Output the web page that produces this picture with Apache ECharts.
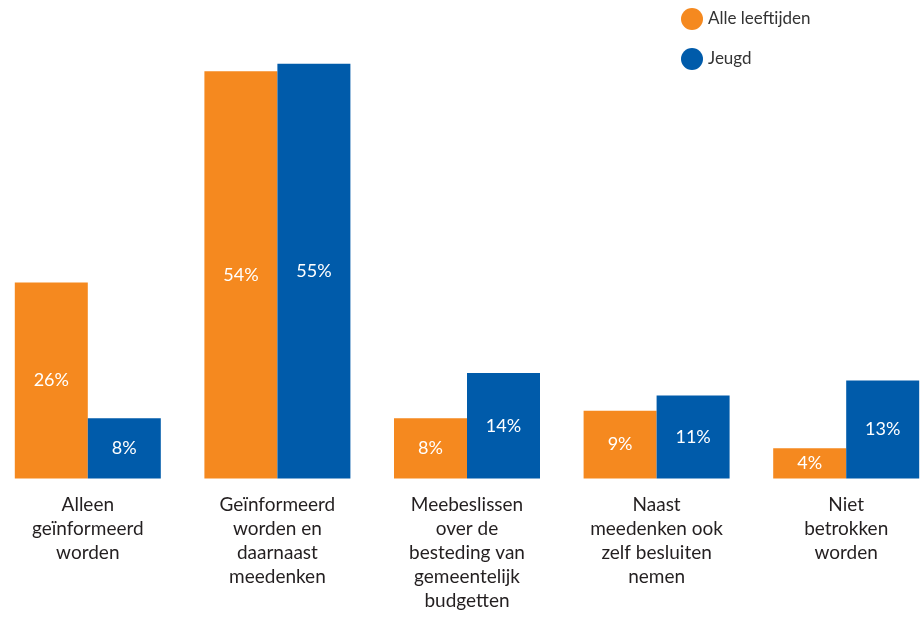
<!DOCTYPE html>
<html>
<head>
<meta charset="utf-8">
<script src="https://cdn.jsdelivr.net/npm/echarts@6/dist/echarts.min.js"></script>
<style>
html,body{margin:0;padding:0;background:#fff;overflow:hidden;width:921px;height:617px;}
#chart{width:948px;height:617px;margin-left:-7px;}
</style>
</head>
<body>
<div id="chart"></div>
<script>
const categories = [
  "Alleen\ngeïnformeerd\nworden",
  "Geïnformeerd\nworden en\ndaarnaast\nmeedenken",
  "Meebeslissen\nover de\nbesteding van\ngemeentelijk\nbudgetten",
  "Naast\nmeedenken ook\nzelf besluiten\nnemen",
  "Niet\nbetrokken\nworden"
];
const seriesNames = ["Alle leeftijden", "Jeugd"];
const alleLeeftijden = [26, 54, 8, 9, 4];
const jeugd = [8, 55, 14, 11, 13];

const chart = echarts.init(document.getElementById('chart'));
const font = 'Lato, "Open Sans", sans-serif';
chart.setOption({
  animation: false,
  color: ['#F5891F', '#005BAA'],
  textStyle: { fontFamily: font },
  legend: {
    orient: 'vertical',
    left: 683,
    top: 3,
    icon: 'circle',
    itemWidth: 22,
    itemHeight: 22,
    itemGap: 18,
    textStyle: { fontSize: 17, color: '#333', fontFamily: font },
    data: seriesNames
  },
  grid: { left: 0, right: 0, top: 26, bottom: 138.5, containLabel: false },
  xAxis: {
    type: 'category',
    data: categories,
    axisLine: { show: false },
    axisTick: { show: false },
    axisLabel: {
      interval: 0,
      margin: 14,
      fontSize: 19,
      lineHeight: 24,
      color: '#231F20',
      fontFamily: font,
      verticalAlign: 'top'
    }
  },
  yAxis: {
    type: 'value',
    min: 0,
    max: 60,
    show: false,
    splitLine: { show: false }
  },
  series: [
    {
      name: seriesNames[0],
      type: 'bar',
      data: alleLeeftijden,
      barWidth: 73,
      barGap: '0%',
      label: { show: true, position: 'inside', color: '#fff', fontSize: 18, formatter: '{c}%', fontFamily: font }
    },
    {
      name: seriesNames[1],
      type: 'bar',
      data: jeugd,
      barWidth: 73,
      barGap: '0%',
      label: { show: true, position: 'inside', color: '#fff', fontSize: 18, formatter: '{c}%', fontFamily: font }
    }
  ]
});
</script>
</body>
</html>
